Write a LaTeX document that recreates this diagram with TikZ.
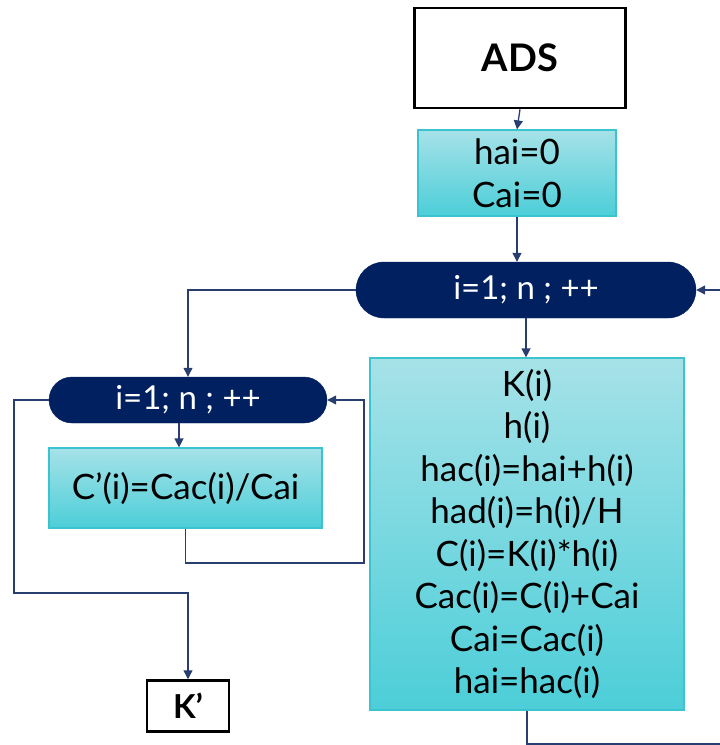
\documentclass[tikz,border=0pt]{standalone}
\usepackage{fontspec}
\setmainfont{Lato}
\usepackage{xcolor}
\usetikzlibrary{arrows.meta,calc,shapes.misc}

\definecolor{navy}{RGB}{0,32,96}
\definecolor{cyantop}{RGB}{166,226,232}
\definecolor{cyanbot}{RGB}{76,206,216}
\definecolor{cyanline}{RGB}{60,196,206}
\definecolor{linkblue}{RGB}{40,62,112}

\tikzset{
  endbox/.style={draw=black, line width=2.5pt, fill=white, inner sep=0pt, font=\fontsize{38}{44}\selectfont\bfseries},
  calcbox/.style={draw=cyanline, line width=1.2pt, top color=cyantop, bottom color=cyanbot, inner sep=0pt, align=center, font=\fontsize{35}{42.5}\selectfont},
  loopbox/.style={rounded rectangle, fill=navy, draw=navy, text=white, inner sep=0pt, font=\fontsize{33}{38}\selectfont},
  arr/.style={draw=linkblue, line width=1.3pt, -{Triangle[length=9pt,width=9pt]}},
  link/.style={draw=linkblue, line width=1.3pt}
}

\begin{document}
\begin{tikzpicture}[x=1pt,y=-1pt]
\useasboundingbox (0,0) rectangle (720,745);
%\draw[help lines] (0,0) grid[step=50] (720,745);

% outer loop
\node[endbox, minimum width=211, minimum height=100] (ads) at (520,58) {ADS};
\node[calcbox, minimum width=198, minimum height=86] (init) at (517,173) {hai=0\\Cai=0};
\node[loopbox, minimum width=340, minimum height=56] (loopA) at (526,290) {i=1; n ; ++};
\node[calcbox, minimum width=314, minimum height=352] (body) at (527,534)
  {K(i)\\h(i)\\hac(i)=hai+h(i)\\had(i)=h(i)/H\\C(i)=K(i)*h(i)\\Cac(i)=C(i)+Cai\\Cai=Cac(i)\\hai=hac(i)};

% inner loop
\node[loopbox, minimum width=278, minimum height=46] (loopB) at (188,400) {i=1; n ; ++};
\node[calcbox, minimum width=273, minimum height=80] (calc) at (185.5,488) {C’(i)=Cac(i)/Cai};
\node[endbox, minimum width=82, minimum height=51, font=\fontsize{33}{40}\selectfont\bfseries] (kout) at (188,706) {K’};

\coordinate (outA) at (720,744);
\coordinate (inA) at (720,290);
\coordinate (backB) at (364,563);
\coordinate (exitB) at (14,593);

\draw[arr] (ads.south) -- (init.north);
\draw[arr] (init.south) -- (init.south |- loopA.north);
\draw[arr] (loopA.south) -- (loopA.south |- body.north);
\draw[link] (body.south) |- (outA);
\draw[arr] (inA) -- (loopA.east);
\draw[arr] (loopA.west) -| (loopB.north);
%\draw[arr] (loopB.south) -- (calc.north);
\draw[arr] ([xshift=-9]loopB.south) -- ([xshift=-9]loopB.south |- calc.north);
\draw[arr] (calc.south) |- (backB) |- (loopB.east);
\draw[arr] (loopB.west) -| (exitB) -| (kout.north);
\end{tikzpicture}
\end{document}
